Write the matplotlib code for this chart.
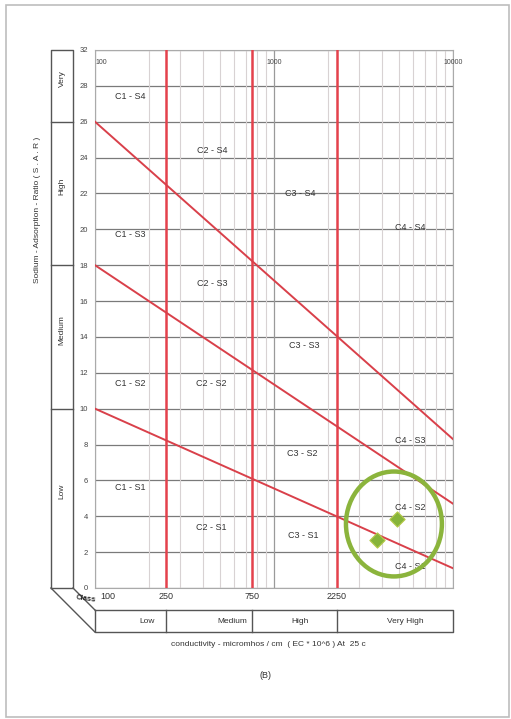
import numpy as np
import matplotlib.pyplot as plt
from matplotlib.patches import Ellipse, Rectangle
from matplotlib.transforms import blended_transform_factory

plt.rcParams['font.family'] = ['Liberation Sans', 'DejaVu Sans']

# sodium hazard boundary lines (SAR at EC = 100 and EC = 10000)
ec_ends = [100, 10000]
s1_s2 = [10.0, 1.1]
s2_s3 = [18.0, 4.7]
s3_s4 = [26.0, 8.3]

# salinity class boundaries (red verticals)
ec_bounds = [250, 750, 2250]
ec_ticks = [100, 250, 750, 2250]
ec_tick_labels = ['100', '250', '750', '2250']
ec_top = [100, 1000, 10000]
ec_top_labels = ['100', '1000', '10000']

sar_ticks = list(range(0, 31, 2))
sar_tick_labels = [str(v) for v in range(0, 29, 2)] + ['32']

sal_classes = ['Low', 'Medium', 'High', 'Very High']
sod_classes = ['Low', 'Medium', 'High', 'Very']
sod_bounds = [0, 10, 18, 26, 30]

# zone names
zones = ['C1 - S4', 'C2 - S4', 'C3 - S4', 'C4 - S4',
         'C1 - S3', 'C2 - S3', 'C3 - S3', 'C4 - S3',
         'C1 - S2', 'C2 - S2', 'C3 - S2', 'C4 - S2',
         'C1 - S1', 'C2 - S1', 'C3 - S1', 'C4 - S1']
zone_ec = [157, 450, 1407, 5800,
           157, 450, 1470, 5800,
           157, 447, 1430, 5800,
           157, 447, 1463, 5800]
zone_sar = [27.4, 24.4, 22.0, 20.1,
            19.7, 17.0, 13.5, 8.25,
            11.4, 11.4, 7.5, 4.5,
            5.6, 3.35, 2.9, 1.2]

# water samples
sample_ec = [4850, 3750]
sample_sar = [3.85, 2.7]

W, H = 511, 719
fig = plt.figure(figsize=(W / 100, H / 100), dpi=100)
ax = fig.add_axes([95 / W, 1 - 588 / H, 358 / W, 538 / H])

ax.set_xscale('log')
ax.set_xlim(100, 10000)
ax.set_ylim(0, 30)

# grid
ax.set_yticks(sar_ticks)
ax.set_yticklabels(sar_tick_labels, fontsize=5.5, color='#444444')
ax.tick_params(axis='y', length=0, pad=5)
ax.set_xticks([])
ax.set_xticks([], minor=True)
for v in sar_ticks:
    ax.axhline(v, color='#7a7a7a', lw=0.9, zorder=1)
for dec in [100, 1000]:
    for m in range(2, 10):
        ax.axvline(dec * m, color='#d8d2d3', lw=0.8, zorder=1)
for v in ec_top:
    ax.axvline(v, color='#9a9a9a', lw=0.9, zorder=1)
for v in ec_bounds:
    ax.axvline(v, color='#e4414c', lw=1.8, zorder=3)
for s in ax.spines.values():
    s.set_color('#aaaaaa')
    s.set_linewidth(0.8)

# sodium boundaries
for line in [s1_s2, s2_s3, s3_s4]:
    ax.plot(ec_ends, line, color='#d9404a', lw=1.4, zorder=3)

for name, x, y in zip(zones, zone_ec, zone_sar):
    ax.text(x, y, name, fontsize=6.5, color='#333333', ha='center', va='center', zorder=4)

# top inner labels
for v, lab in zip(ec_top, ec_top_labels):
    ax.text(v, 29.3, lab, fontsize=5, color='#444444',
            ha='left' if v == 100 else 'center', va='center', zorder=4)

# bottom EC tick labels
bt = blended_transform_factory(ax.transData, ax.transAxes)
for v, lab in zip(ec_ticks, ec_tick_labels):
    ax.text(v * (1.18 if v == 100 else 1.0), -0.015, lab, transform=bt, fontsize=6.5,
            color='#333333', ha='center', va='center', clip_on=False)

# samples
ax.scatter(sample_ec, sample_sar, marker='D', s=60, color='#86b43a',
           edgecolor='#b5c94a', lw=0.8, zorder=5)
ax.add_patch(Ellipse((0.835, 0.119), 0.268, 0.195, transform=ax.transAxes,
                     fill=False, ec='#8bb43c', lw=3.2, zorder=6, clip_on=False))

# left class strip (sodium hazard)
lt = blended_transform_factory(ax.transAxes, ax.transData)
x0, x1 = -0.123, -0.0615
ax.plot([x0, x0, x1, x1, x0], [0, 30, 30, 0, 0], transform=lt,
        color='#555555', lw=1.0, clip_on=False)
for b in sod_bounds[1:-1]:
    ax.plot([x0, x1], [b, b], transform=lt, color='#555555', lw=1.0, clip_on=False)
for lab, lo, hi in zip(sod_classes, sod_bounds[:-1], sod_bounds[1:]):
    ax.text((x0 + x1) / 2, (lo + hi) / 2 + 0.4, lab, transform=lt, rotation=90,
            fontsize=6, color='#333333', ha='center', va='center', clip_on=False)

# bottom class strip (salinity hazard)
yb0, yb1 = -0.082, -0.041
ax.plot([100, 10000, 10000, 100, 100], [yb1, yb1, yb0, yb0, yb1], transform=bt,
        color='#555555', lw=1.0, clip_on=False)
for b in ec_bounds:
    ax.plot([b, b], [yb0, yb1], transform=bt, color='#555555', lw=1.0, clip_on=False)
lab_x = [195, 585, 1400, 5400]
for lab, x in zip(sal_classes, lab_x):
    ax.text(x, (yb0 + yb1) / 2, lab, transform=bt, fontsize=6, color='#333333',
            ha='center', va='center', clip_on=False)

# perspective connectors
ax.plot([x0, 0.0], [0, yb0], transform=ax.transAxes, color='#555555', lw=1.0, clip_on=False)
ax.plot([x1, 0.0], [0, yb1], transform=ax.transAxes, color='#555555', lw=1.0, clip_on=False)
ax.text(-0.024, -0.021, 'Class', transform=ax.transAxes, fontsize=5.5, color='#222222',
        rotation=-8, ha='center', va='center', fontweight='bold', clip_on=False)

fig.text(38 / W, 1 - 210 / H, 'Sodium - Adsorption - Ratio ( S . A . R )', rotation=90,
         fontsize=6, color='#333333', ha='center', va='center')
fig.text(268 / W, 1 - 645 / H, 'conductivity - micromhos / cm  ( EC * 10^6 ) At  25 c',
         fontsize=6, color='#333333', ha='center', va='center')
fig.text(265 / W, 1 - 676 / H, '(B)', fontsize=6.5, color='#333333', ha='center', va='center')

fig.add_artist(Rectangle((6 / W, 1 - 717 / H), 503 / W, 712 / H, transform=fig.transFigure,
                         fill=False, ec='#bdbdbd', lw=1.2))

fig.savefig('out.png', dpi=100)
